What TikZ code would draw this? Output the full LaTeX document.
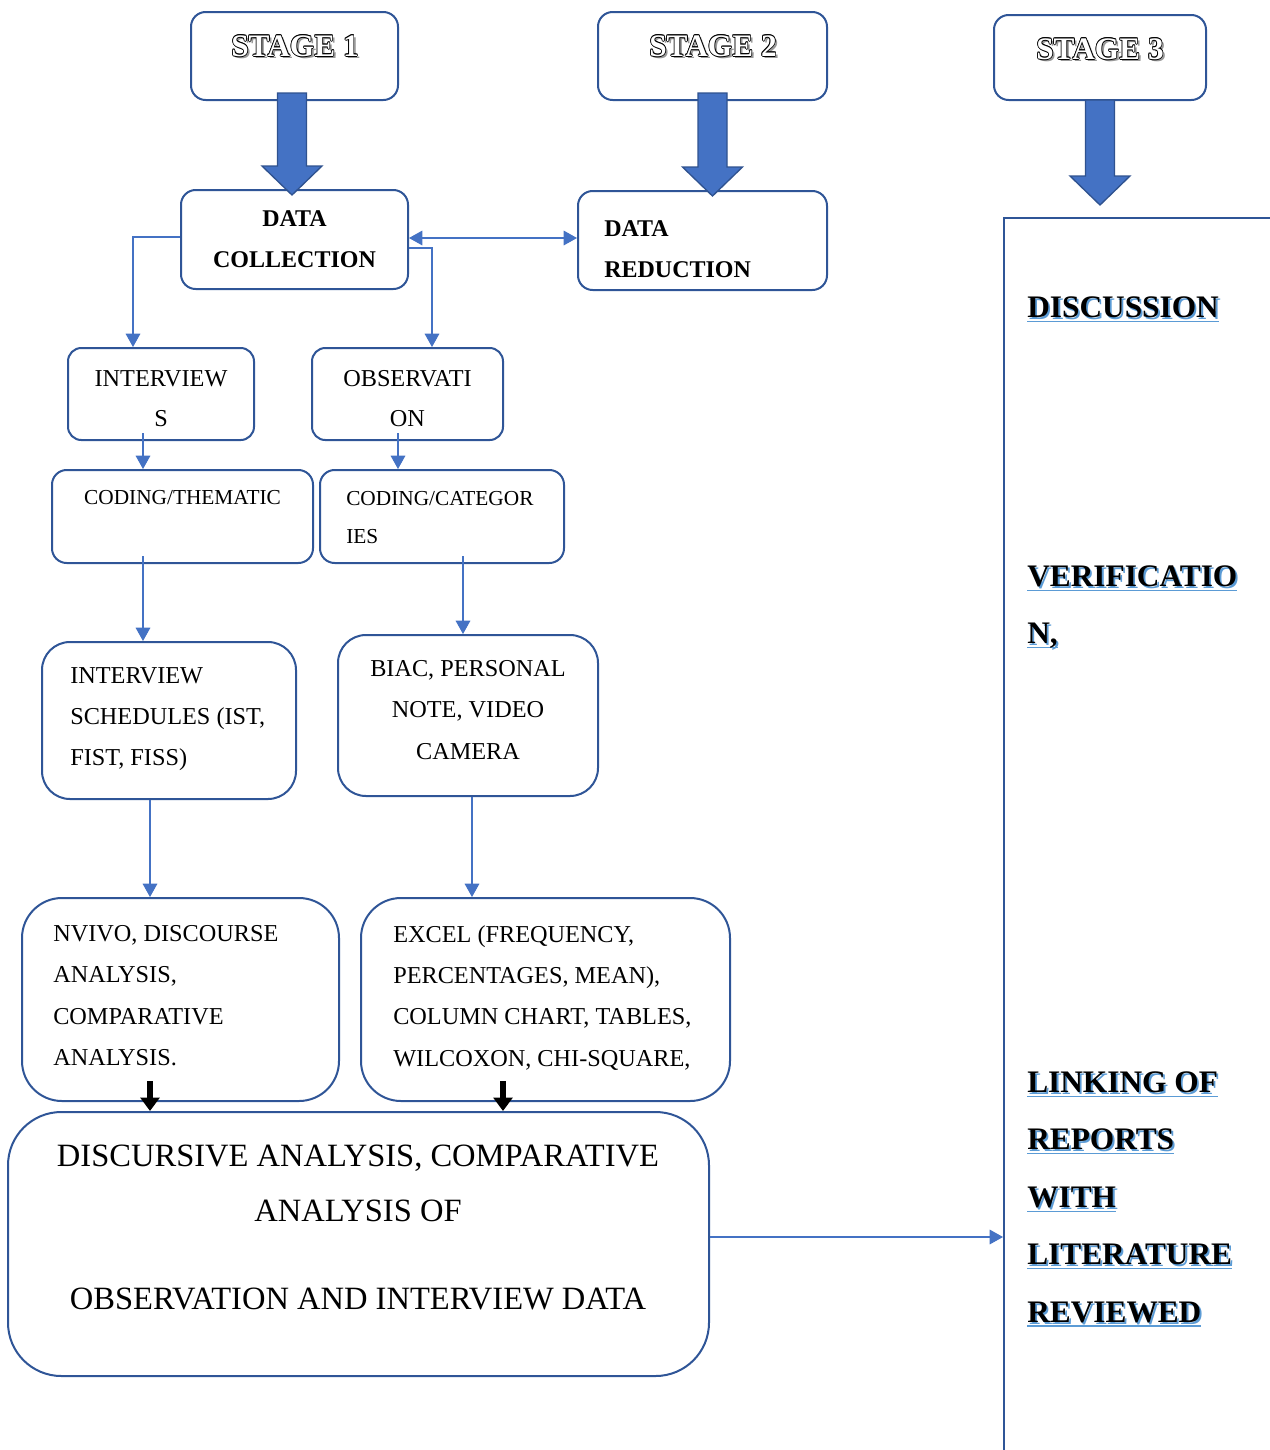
\documentclass[tikz,border=0pt]{standalone}
\usepackage{fontspec}
\setmainfont{Liberation Serif}
\usetikzlibrary{arrows.meta,calc}

\definecolor{boxblue}{HTML}{2F5597}
\definecolor{lineblue}{HTML}{4472C4}
\definecolor{arrowedge}{HTML}{2F528F}
\definecolor{castblue}{HTML}{5B9BD5}

% bold letters with a blue cast shadow and a blue underline
\newsavebox\castbox
\newcommand\bluecast[1]{\sbox\castbox{#1}%
  \rlap{\textcolor{castblue}{\rule[-3.2pt]{\wd\castbox}{0.9pt}}}%
  \rlap{\hspace{1.4pt}\raisebox{-1.4pt}{\textcolor{castblue}{#1}}}%
  \usebox\castbox}

% white letters with a black outline and a grey drop shadow
\newcommand\engraved[1]{%
  \rlap{\hspace{1.8pt}\raisebox{-1.8pt}{\textcolor{black!40}{#1}}}%
  \rlap{\hspace{0.55pt}#1}\rlap{\hspace{-0.55pt}#1}%
  \rlap{\raisebox{0.55pt}{#1}}\rlap{\raisebox{-0.55pt}{#1}}%
  \rlap{\hspace{0.4pt}\raisebox{0.4pt}{#1}}\rlap{\hspace{-0.4pt}\raisebox{0.4pt}{#1}}%
  \rlap{\hspace{0.4pt}\raisebox{-0.4pt}{#1}}\rlap{\hspace{-0.4pt}\raisebox{-0.4pt}{#1}}%
  \textcolor{white}{#1}}

% wide filled arrow from #1 (top of shaft) to #2 (point)
\newcommand\blockarrow[2]{%
  \draw[bigarrow] ($(#1)+(-14.5,0)$) -- ($(#2)+(-14.5,-29)$) -- ($(#2)+(-30,-29)$)
    -- (#2) -- ($(#2)+(30,-29)$) -- ($(#2)+(14.5,-29)$) -- ($(#1)+(14.5,0)$) -- cycle;}

\tikzset{
  box/.style={draw=boxblue, line width=1.5pt, fill=white, inner sep=0pt},
  conn/.style={draw=lineblue, line width=0.8pt},
  arr/.style={-{Triangle[length=10pt,width=11pt]}},
  bigarrow/.style={fill=lineblue, draw=arrowedge, line width=1pt, line join=miter},
  darrow/.style={draw=black, line width=4.5pt, -{Triangle[length=10pt 0,width=14pt 0]}},
  body/.style={font=\fontsize{18.2}{31}\selectfont, inner sep=0pt},
  boldtxt/.style={font=\fontsize{18}{31}\selectfont\bfseries, inner sep=0pt},
  smalltxt/.style={font=\fontsize{16}{28.5}\selectfont, inner sep=0pt},
  bigtxt/.style={font=\fontsize{24.4}{41.25}\selectfont, inner sep=0pt},
  stagetxt/.style={font=\fontsize{23.5}{27}\selectfont\bfseries, inner sep=0pt},
  paneltxt/.style={font=\fontsize{23.5}{43.1}\selectfont\bfseries, inner sep=0pt},
}

\begin{document}
\begin{tikzpicture}[x=0.75pt, y=-0.75pt]
\useasboundingbox (0,0) rectangle (1270,1450);
\clip (0,0) rectangle (1270,1450);

% stage headers
\node[box, minimum width=155.25pt, minimum height=66pt, rounded corners=11pt] (s1) at (294.5,56) {};
\node[box, minimum width=171.75pt, minimum height=66pt, rounded corners=11pt] (s2) at (712.5,56) {};
\node[box, minimum width=159pt, minimum height=63.75pt, rounded corners=11pt] (s3) at (1100,57.5) {};
\node[stagetxt] (s1t) at (295,47) {\engraved{STAGE 1}};
\node[stagetxt] (s2t) at (713,47) {\engraved{STAGE 2}};
\node[stagetxt] (s3t) at (1100,50) {\engraved{STAGE 3}};

% stage 3 panel
\node[draw=boxblue, line width=1.5pt, anchor=north west, minimum width=450pt, minimum height=1050pt] (rp) at (1003,217) {};

% data collection and reduction
\node[box, boldtxt, minimum width=170.25pt, minimum height=74.25pt, rounded corners=11pt, align=center] (dc) at (294.5,239.5) {DATA\\COLLECTION};
\node[box, minimum width=186.75pt, minimum height=74.25pt, rounded corners=11pt] (dr) at (702.5,240.5) {};
\node[boldtxt, anchor=north west, align=left] (drt) at (604,220) {DATA\\REDUCTION};

% methods
\node[box, minimum width=139.5pt, minimum height=69pt, rounded corners=10pt] (iv) at (161,394) {};
\node[body, anchor=north, align=center, font=\fontsize{18.2}{30}\selectfont] (ivt) at (161,370) {INTERVIEW\\S};
\node[box, minimum width=143.25pt, minimum height=69pt, rounded corners=10pt] (ob) at (407.5,394) {};
\node[body, anchor=north, align=center, font=\fontsize{18.2}{30}\selectfont] (obt) at (407.5,370) {OBSERVATI\\ON};

% coding
\node[box, smalltxt, minimum width=195.75pt, minimum height=69.75pt, rounded corners=11pt, align=center] (ct) at (182.5,516.5) {CODING/THEMATIC\\\mbox{}};
\node[box, minimum width=183pt, minimum height=69.75pt, rounded corners=11pt] (cc) at (442,516.5) {};
\node[smalltxt, anchor=north west, align=left] (cct) at (346,491) {CODING/CATEGOR\\IES};

% instruments
\node[box, minimum width=190.5pt, minimum height=117.75pt, rounded corners=21pt] (is) at (169,720.5) {};
\node[body, anchor=north west, align=left] (ist) at (70,667) {INTERVIEW\\SCHEDULES (IST,\\FIST, FISS)};
\node[box, minimum width=195pt, minimum height=120.75pt, rounded corners=21pt] (bi) at (468,715.5) {};
\node[body, anchor=north, align=center] (bit) at (468,660) {BIAC, PERSONAL\\NOTE, VIDEO\\CAMERA};

% analysis tools
\node[box, minimum width=237.75pt, minimum height=152.25pt, rounded corners=30pt] (nv) at (180.5,999.5) {};
\node[body, anchor=north west, align=left] (nvt) at (53,925) {NVIVO, DISCOURSE\\ANALYSIS,\\COMPARATIVE\\ANALYSIS.};
\node[box, minimum width=276.75pt, minimum height=152.25pt, rounded corners=30pt] (ex) at (545.5,999.5) {};
\node[body, anchor=north west, align=left] (ext) at (393,925) {EXCEL (FREQUENCY,\\PERCENTAGES, MEAN),\\COLUMN CHART, TABLES,\\WILCOXON, CHI-SQUARE,};

% combined analysis
\node[box, minimum width=525.75pt, minimum height=198pt, rounded corners=40pt] (an) at (358.5,1244) {};
\node[bigtxt, anchor=north, align=center] (ant) at (358,1144.5)
  {DISCURSIVE ANALYSIS, COMPARATIVE\\ANALYSIS OF\\[24.75pt]OBSERVATION AND INTERVIEW DATA};

% stage 3 panel texts
\node[paneltxt, anchor=north west, align=left] (pt1) at (1027,296.5) {\bluecast{DISCUSSION}};
\node[paneltxt, anchor=north west, align=left] (pt2) at (1027,565.5) {\bluecast{VERIFICATIO}\\\bluecast{N,}};
\node[paneltxt, anchor=north west, align=left] (pt3) at (1027,1071.5)
  {\bluecast{LINKING OF}\\\bluecast{REPORTS}\\\bluecast{WITH}\\\bluecast{LITERATURE}\\\bluecast{REVIEWED}};

% block arrows from the stages
\coordinate (b1a) at ($(s1.south)+(-2.5,-8)$);
\coordinate (b1b) at ($(dc.north)+(-2.5,6)$);
\blockarrow{b1a}{b1b}
\coordinate (b2a) at ($(s2.south)+(0,-8)$);
\coordinate (b2b) at ($(dr.north)+(10,6)$);
\blockarrow{b2a}{b2b}
\coordinate (b3a) at ($(s3.south)+(0,-1)$);
\coordinate (b3c) at (s3.south |- rp.north);
\coordinate (b3b) at ($(b3c)+(0,-12)$);
\blockarrow{b3a}{b3b}

% connectors
\coordinate (p1) at ($(dc.west)+(0,-2.5)$);
\draw[conn, arr] (p1) -| ($(iv.north)+(-28,0)$);
\coordinate (p2) at ($(dc.east)+(0,8.5)$);
\draw[conn, arr] (p2) -| ($(ob.north)+(24.5,0)$);
\draw[conn, {Triangle[length=10pt,width=11pt]}-{Triangle[length=10pt,width=11pt]}]
  ($(dc.east)+(0,-1.5)$) -- ($(dr.west)+(0,-2.5)$);

\coordinate (p3) at ($(iv.south)+(-18,-8)$);
\draw[conn, arr] (p3) -- (p3 |- ct.north);
\coordinate (p4) at ($(ob.south)+(-9.5,-8)$);
\draw[conn, arr] (p4) -- (p4 |- cc.north);
\coordinate (p5) at ($(ct.south)+(-39.5,-8)$);
\draw[conn, arr] (p5) -- (p5 |- is.north);
\coordinate (p6) at ($(cc.south)+(21,-8)$);
\draw[conn, arr] (p6) -- (p6 |- bi.north);
\coordinate (p7) at ($(is.south)+(-19,0)$);
\draw[conn, arr] (p7) -- (p7 |- nv.north);
\coordinate (p8) at ($(bi.south)+(4,0)$);
\draw[conn, arr] (p8) -- (p8 |- ex.north);

\coordinate (p9) at ($(nv.south)+(-30.5,-21)$);
\draw[darrow] (p9) -- (p9 |- an.north);
\coordinate (p10) at ($(ex.south)+(-42.5,-21)$);
\draw[darrow] (p10) -- (p10 |- an.north);

\coordinate (p11) at ($(an.east)+(0,-7)$);
\draw[conn, arr] (p11) -- (p11 -| rp.west);
\end{tikzpicture}
\end{document}
